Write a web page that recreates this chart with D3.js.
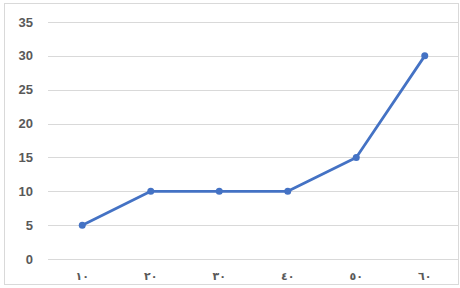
<!DOCTYPE html>
<html>
<head>
<meta charset="utf-8">
<script src="https://cdn.jsdelivr.net/npm/d3@7"></script>
<style>
  body { margin: 0; background: #fff; }
  svg { display: block; }
</style>
</head>
<body>
<script>
! function () {
  // categories (arabic-indic) and values
  let categories = ['١٠', '٢٠', '٣٠', '٤٠', '٥٠', '٦٠'];
  let values = [5, 10, 10, 10, 15, 30];
  let yTicks = [0, 5, 10, 15, 20, 25, 30, 35];

  let W = 460, H = 288;
  let svg = d3.select('body').append('svg').attr('width', W).attr('height', H);

  // chart border
  svg.append('rect')
    .attr('x', 4.5).attr('y', 3.5)
    .attr('width', 454).attr('height', 281)
    .style('fill', 'none')
    .style('stroke', '#d9d9d9');

  let x = d3.scaleBand().domain(categories).range([48, 459]);
  let y = d3.scaleLinear().domain([0, 35]).range([259, 22]);

  // gridlines
  svg.append('g').selectAll('line').data(yTicks).enter().append('line')
    .attr('x1', 48).attr('x2', 459)
    .attr('y1', d => Math.round(y(d)) + 0.5)
    .attr('y2', d => Math.round(y(d)) + 0.5)
    .style('stroke', '#d9d9d9');

  // y labels
  svg.append('g').selectAll('text').data(yTicks).enter().append('text')
    .attr('x', 33).attr('y', d => y(d))
    .attr('dy', '0.35em')
    .attr('text-anchor', 'end')
    .style('font', 'bold 13px "Liberation Sans", Arial, sans-serif')
    .style('fill', '#595959')
    .text(d => d);

  // x labels
  svg.append('g').selectAll('text').data(categories).enter().append('text')
    .attr('x', d => x(d) + x.bandwidth() / 2).attr('y', 276)
    .attr('dy', '0.35em')
    .attr('text-anchor', 'middle')
    .style('font', 'bold 11px "DejaVu Sans", sans-serif')
    .style('letter-spacing', '1px')
    .style('fill', '#595959')
    .text(d => d);

  let pts = categories.map((c, i) => [x(c) + x.bandwidth() / 2, y(values[i])]);

  svg.append('path')
    .attr('d', d3.line()(pts))
    .style('stroke', '#4472c4')
    .style('stroke-width', 2.75)
    .style('stroke-linejoin', 'round')
    .style('fill', 'none');

  svg.append('g').selectAll('circle').data(pts).enter().append('circle')
    .attr('cx', d => d[0]).attr('cy', d => d[1])
    .attr('r', 3.5)
    .style('fill', '#4472c4');
}()
</script>
</body>
</html>
